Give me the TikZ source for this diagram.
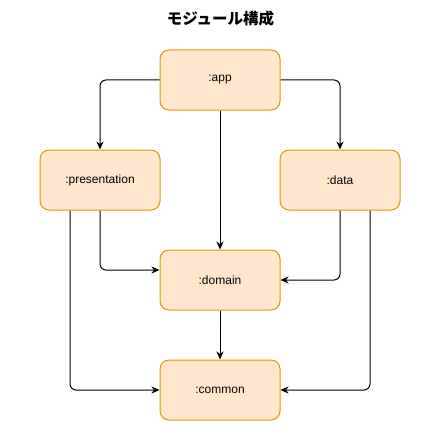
\documentclass[tikz,border=0pt]{standalone}
\usepackage{fontspec}
\setmainfont{Liberation Sans}
\newfontfamily\cjk{Noto Sans CJK JP}
\usetikzlibrary{arrows.meta}
\definecolor{modfill}{HTML}{FFE6CC}
\definecolor{moddraw}{HTML}{D79B00}
\begin{document}
\begin{tikzpicture}[x=1pt,y=-1pt,
  module/.style={draw=moddraw, fill=modfill, line width=1pt, rounded corners=9pt,
    minimum width=120pt, minimum height=60pt, inner sep=0pt,
    font=\fontsize{12pt}{14pt}\selectfont},
  link/.style={line width=1pt, rounded corners=6pt,
    -{Stealth[length=8pt,width=7pt,inset=2.5pt]}}]
  \useasboundingbox (0,0) rectangle (441,441);
  % title
  \node (title) at (220.5,19) {\cjk\bfseries\fontsize{15.5pt}{18pt}\selectfont モジュール構成};
  % modules
  \node[module] (app)    at (220,80)  {:app};
  \node[module] (pres)   at (100,180) {:presentation};
  \node[module] (data)   at (340,180) {:data};
  \node[module] (domain) at (220,280) {:domain};
  \node[module] (common) at (220,390) {:common};
  % dependencies
  \draw[link] (app.west) -| (pres.north);
  \draw[link] (app.east) -| (data.north);
  \draw[link] (app.south) -- (domain.north);
  \draw[link] (pres.south) |- ([yshift=10pt]domain.west);
  \draw[link] (data.south) |- (domain.east);
  \draw[link] (domain.south) -- (common.north);
  \draw[link] ([xshift=-30pt]pres.south) |- (common.west);
  \draw[link] ([xshift=30pt]data.south) |- (common.east);
\end{tikzpicture}
\end{document}
